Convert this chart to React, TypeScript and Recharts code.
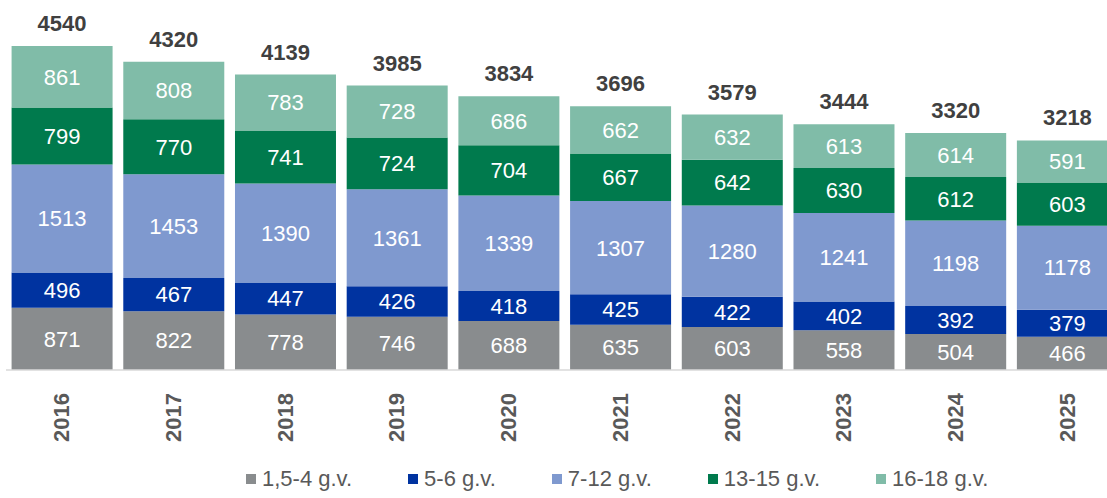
import React from 'react';
import { BarChart, Bar, XAxis, YAxis, Legend, LabelList } from 'recharts';

const categories = ['2016', '2017', '2018', '2019', '2020', '2021', '2022', '2023', '2024', '2025'];
const age1 = [871, 822, 778, 746, 688, 635, 603, 558, 504, 466];
const age2 = [496, 467, 447, 426, 418, 425, 422, 402, 392, 379];
const age3 = [1513, 1453, 1390, 1361, 1339, 1307, 1280, 1241, 1198, 1178];
const age4 = [799, 770, 741, 724, 704, 667, 642, 630, 612, 603];
const age5 = [861, 808, 783, 728, 686, 662, 632, 613, 614, 591];
const totals = [4540, 4320, 4139, 3985, 3834, 3696, 3579, 3444, 3320, 3218];

const seriesNames = ['1,5-4 g.v.', '5-6 g.v.', '7-12 g.v.', '13-15 g.v.', '16-18 g.v.'];
const seriesKeys = ['a1', 'a2', 'a3', 'a4', 'a5'];
const seriesColors = ['#898C8E', '#0033A0', '#7F99CF', '#007A4D', '#80BCA8'];

const data = categories.map((c, i) => ({
  year: c,
  a1: age1[i],
  a2: age2[i],
  a3: age3[i],
  a4: age4[i],
  a5: age5[i],
  total: totals[i],
}));

const FONT = '"Liberation Sans", Arial, sans-serif';

const YearTick = (props: any) => {
  const { x, y, payload } = props;
  return (
    <text
      x={x}
      y={y + 15}
      transform={`rotate(-90, ${x}, ${y + 15})`}
      textAnchor="end"
      dominantBaseline="central"
      fill="#595959"
      fontFamily={FONT}
      fontWeight="bold"
      fontSize={22}
    >
      {payload.value}
    </text>
  );
};

const TotalLabel = (props: any) => {
  const { x, y, width, index } = props;
  return (
    <text
      x={x + width / 2}
      y={y - 15}
      textAnchor="middle"
      fill="#404040"
      fontFamily={FONT}
      fontWeight="bold"
      fontSize={22}
    >
      {totals[index]}
    </text>
  );
};

const CustomLegend = () => (
  <div
    style={{
      display: 'flex',
      alignItems: 'center',
      paddingLeft: 246,
      fontFamily: FONT,
      fontSize: 22,
      color: '#595959',
      height: 38,
      lineHeight: '22px',
    }}
  >
    {seriesNames.map((n, i) => (
      <div key={n} style={{ display: 'flex', alignItems: 'center', marginRight: i < seriesNames.length - 1 ? 56 : 0 }}>
        <span style={{ display: 'inline-block', width: 10, height: 10, background: seriesColors[i], marginRight: 6 }} />
        <span>{n}</span>
      </div>
    ))}
  </div>
);

export default function App() {
  return (
    <div style={{ position: 'absolute', left: 0, top: 0, width: 1107, height: 498, overflow: 'hidden', background: '#fff' }}>
      <BarChart
        width={1123}
        height={498}
        data={data}
        margin={{ top: 46, right: 0, left: 6, bottom: 0 }}
        barCategoryGap="5%"
      >
        <XAxis
          dataKey="year"
          height={90}
          axisLine={{ stroke: '#D9D9D9', strokeWidth: 1.5 }}
          tickLine={false}
          tick={<YearTick />}
          interval={0}
        />
        <YAxis hide domain={[0, 4540]} />
        <Legend
          verticalAlign="bottom"
          height={38}
          wrapperStyle={{ left: 0, width: 1107 }}
          content={<CustomLegend />}
        />
        {seriesKeys.map((k, i) => (
          <Bar key={k} dataKey={k} name={seriesNames[i]} stackId="s" fill={seriesColors[i]} isAnimationActive={false}>
            <LabelList
              dataKey={k}
              position="center"
              fill="#ffffff"
              fontFamily={FONT}
              fontSize={22}
            />
            {i === seriesKeys.length - 1 ? <LabelList dataKey="total" content={<TotalLabel />} /> : null}
          </Bar>
        ))}
      </BarChart>
    </div>
  );
}
